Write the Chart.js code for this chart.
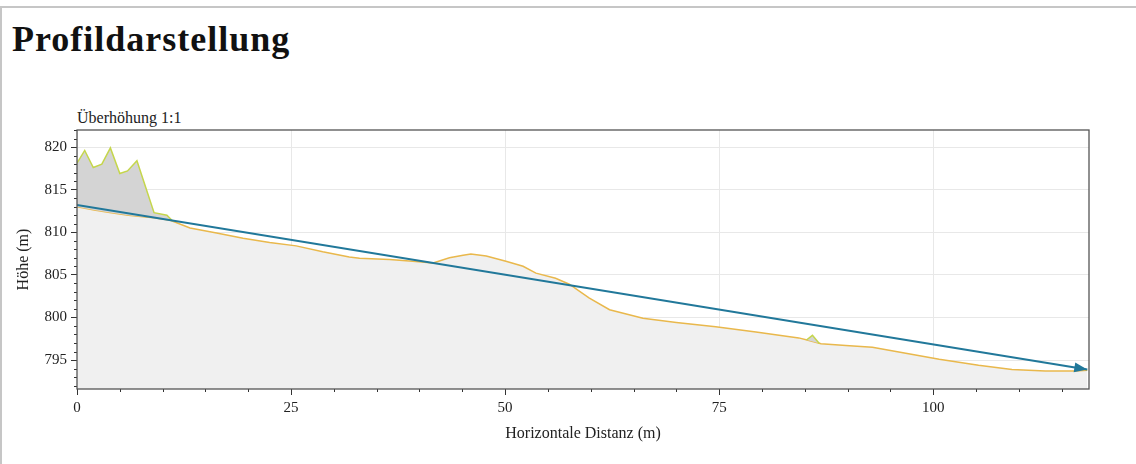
<!DOCTYPE html>
<html><head><meta charset="utf-8">
<script src="https://cdn.jsdelivr.net/npm/chart.js@4.4.0/dist/chart.umd.min.js"></script>
<style>
html,body{margin:0;padding:0;background:#fff;width:1136px;height:464px;overflow:hidden;}
#frame{position:absolute;left:0;top:6px;width:1142px;height:470px;border-left:2px solid #c6c6c6;border-top:2px solid #c6c6c6;box-sizing:border-box;}
h1{position:absolute;left:12px;top:21px;margin:0;font-family:"Liberation Serif",serif;font-weight:bold;font-size:36px;line-height:36px;letter-spacing:1px;color:#111;}
#sub{position:absolute;left:77px;top:110px;font-family:"Liberation Serif",serif;font-size:16px;line-height:16px;color:#222;}
canvas{position:absolute;left:0;top:0;}
</style>
</head><body>
<div id="frame"></div>
<h1>Profildarstellung</h1>
<div id="sub">Überhöhung 1:1</div>
<canvas id="c" width="1136" height="464"></canvas>
<script>
// Terrain profile (horizontal distance m, height m)
const terrainX = [0, 2, 4, 6, 8, 9, 10.9, 13.2, 16.3, 19.4, 22.5, 25.6, 28.7, 31.8, 33.0, 36.5, 39.2, 41.6, 43.5, 45.1, 46.0, 47.8, 50.1, 52.1, 53.6, 55.9, 57.5, 59.8, 62.2, 66.1, 70.0, 74.6, 79.3, 82.0, 84.3, 85.5, 86.9, 89.8, 92.9, 96.8, 100.7, 105.3, 109.2, 113.1, 116.6, 118];
const terrainY = [813.0, 812.6, 812.3, 812.0, 811.8, 811.7, 811.4, 810.5, 809.9, 809.3, 808.8, 808.4, 807.7, 807.1, 806.95, 806.8, 806.6, 806.4, 807.0, 807.3, 807.45, 807.2, 806.6, 806.0, 805.2, 804.6, 803.9, 802.3, 800.9, 799.9, 799.4, 798.9, 798.3, 797.9, 797.6, 797.3, 796.9, 796.7, 796.5, 795.8, 795.1, 794.4, 793.9, 793.7, 793.7, 793.8];
// Obstacles above terrain
const obstacleAX = [0, 0.9, 1.9, 2.9, 3.9, 5.0, 5.9, 7.0, 9.0, 10.5, 11.2];
const obstacleAY = [818.1, 819.6, 817.6, 818.0, 819.9, 816.9, 817.2, 818.4, 812.3, 812.0, 811.3];
const obstacleBX = [85.2, 85.9, 86.7];
const obstacleBY = [797.35, 797.9, 796.95];
// Line of sight
const sightX = [0, 118];
const sightY = [813.2, 793.9];
// Tick labels
const xTickValues = [0, 25, 50, 75, 100];
const yTickValues = [795, 800, 805, 810, 815, 820];

const pts = (xs, ys) => xs.map((x, i) => ({x, y: ys[i]}));
const tickFont = {family: '"Liberation Serif", serif', size: 15};
const titleFont = {family: '"Liberation Serif", serif', size: 16};

const extras = {
  id: 'extras',
  afterDraw(chart) {
    const {ctx, chartArea: a, scales: {x, y}} = chart;
    ctx.save();
    ctx.strokeStyle = '#333';
    ctx.lineWidth = 1;
    ctx.beginPath();
    for (let v = 5; v < x.max; v += 5) {
      if (v % 25 === 0) continue;
      const px = Math.round(x.getPixelForValue(v)) + 0.5;
      ctx.moveTo(px, a.bottom); ctx.lineTo(px, a.bottom + 3);
    }
    for (let v = Math.ceil(y.min); v <= y.max; v += 1) {
      if (v % 5 === 0) continue;
      const py = Math.round(y.getPixelForValue(v)) + 0.5;
      ctx.moveTo(a.left, py); ctx.lineTo(a.left - 3, py);
    }
    ctx.stroke();
    // arrow head on line of sight
    const meta = chart.getDatasetMeta(0).data;
    const p1 = meta[meta.length - 2], p2 = meta[meta.length - 1];
    const ang = Math.atan2(p2.y - p1.y, p2.x - p1.x);
    const L = 13, W = 5;
    ctx.fillStyle = '#21789a';
    ctx.beginPath();
    ctx.moveTo(p2.x, p2.y);
    ctx.lineTo(p2.x - L * Math.cos(ang) + W * Math.sin(ang), p2.y - L * Math.sin(ang) - W * Math.cos(ang));
    ctx.lineTo(p2.x - L * Math.cos(ang) - W * Math.sin(ang), p2.y - L * Math.sin(ang) + W * Math.cos(ang));
    ctx.closePath();
    ctx.fill();
    // frame
    ctx.strokeStyle = '#555';
    ctx.lineWidth = 1.3;
    ctx.strokeRect(a.left, a.top, a.right - a.left, a.bottom - a.top);
    ctx.restore();
  }
};

new Chart(document.getElementById('c'), {
  type: 'line',
  data: {
    datasets: [
      {data: pts(sightX, sightY), borderColor: '#21789a', borderWidth: 2, pointRadius: 0, fill: false, tension: 0},
      {data: pts(obstacleAX, obstacleAY), borderColor: '#c5d64c', borderWidth: 1.5, backgroundColor: '#d4d4d4', pointRadius: 0, fill: 3, tension: 0},
      {data: pts(obstacleBX, obstacleBY), borderColor: '#c5d64c', borderWidth: 1.5, backgroundColor: '#d4d4d4', pointRadius: 0, fill: 3, tension: 0},
      {data: pts(terrainX, terrainY), borderColor: '#e9b84c', borderWidth: 1.5, backgroundColor: '#f0f0f0', pointRadius: 0, fill: 'start', tension: 0}
    ]
  },
  options: {
    responsive: false,
    animation: false,
    events: [],
    layout: {padding: {left: 0, top: 130, right: 47, bottom: 0}},
    plugins: {legend: {display: false}, tooltip: {enabled: false}, title: {display: false}},
    scales: {
      x: {
        type: 'linear', min: 0, max: 118.2,
        afterBuildTicks: s => { s.ticks = xTickValues.map(v => ({value: v})); },
        afterFit: s => { s.height = 75; },
        ticks: {font: tickFont, color: '#222', padding: 4, maxRotation: 0, autoSkip: false},
        grid: {color: '#e8e8e8', tickColor: '#333', tickLength: 6, lineWidth: 1},
        border: {display: false},
        title: {display: true, text: 'Horizontale Distanz (m)', font: titleFont, color: '#222', padding: {top: 0, bottom: 21}}
      },
      y: {
        type: 'linear', min: 791.6, max: 822,
        afterBuildTicks: s => { s.ticks = yTickValues.map(v => ({value: v})); },
        afterFit: s => { s.width = 77; },
        ticks: {font: tickFont, color: '#222', padding: 4, autoSkip: false},
        grid: {color: '#e8e8e8', tickColor: '#333', tickLength: 6, lineWidth: 1},
        border: {display: false},
        title: {display: true, text: 'Höhe (m)', font: titleFont, color: '#222', padding: {top: 14, bottom: 0}}
      }
    }
  },
  plugins: [extras]
});
</script>
</body></html>
